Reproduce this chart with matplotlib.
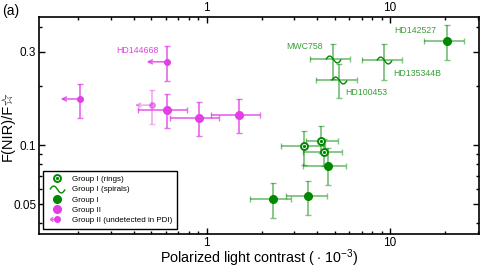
import numpy as np
import matplotlib
matplotlib.use("Agg")
import matplotlib.pyplot as plt
from matplotlib.lines import Line2D
from matplotlib.path import Path
from matplotlib.legend_handler import HandlerTuple
from matplotlib.ticker import FixedLocator, LogLocator, NullFormatter, FixedFormatter

plt.rcParams['font.family'] = ['Liberation Sans', 'DejaVu Sans']
plt.rcParams['mathtext.fontset'] = 'custom'
plt.rcParams['mathtext.rm'] = 'Liberation Sans'

GREEN = '#008800'
GREEN_TXT = '#3a9e3a'
MAG = '#e23fe6'

# Group I (filled) : x, x-range, y, y-range
g1_x = [2.29, 3.58, 4.57, 20.4]
g1_xlo = [1.73, 2.70, 3.37, 15.3]
g1_xhi = [2.87, 4.52, 5.73, 25.4]
g1_y = [0.0532, 0.0553, 0.0785, 0.341]
g1_ylo = [0.0424, 0.0441, 0.0627, 0.273]
g1_yhi = [0.0639, 0.0659, 0.097, 0.410]

# Group I (rings)
ring_x = [3.40, 4.18, 4.38]
ring_xlo = [2.54, 3.50, 3.37]
ring_xhi = [4.40, 5.22, 5.45]
ring_y = [0.0985, 0.105, 0.0925]
ring_ylo = [0.0792, 0.091, 0.078]
ring_yhi = [0.118, 0.126, 0.108]

# Group I (spirals)
spi_x = [4.91, 5.27, 9.31]
spi_xlo = [3.66, 3.96, 7.01]
spi_xhi = [6.07, 6.61, 11.67]
spi_y = [0.275, 0.216, 0.272]
spi_ylo = [0.217, 0.173, 0.216]
spi_yhi = [0.329, 0.260, 0.326]

# Group II (detected)
g2_x = [0.605, 0.904, 1.50]
g2_xlo = [0.424, 0.633, 1.05]
g2_xhi = [0.778, 1.167, 1.95]
g2_y = [0.152, 0.138, 0.143]
g2_ylo = [0.122, 0.111, 0.1155]
g2_yhi = [0.182, 0.166, 0.171]

# Group II (undetected in PDI) - upper limits
ul_x = [0.204, 0.605, 0.503]
ul_xend = [0.160, 0.471, 0.406]
ul_y = [0.172, 0.266, 0.160]
ul_ylo = [0.137, 0.213, 0.128]
ul_yhi = [0.204, 0.319, 0.192]
ul_alpha = [1.0, 1.0, 0.55]

# star labels
lab_names = ['HD144668', 'MWC758', 'HD142527', 'HD135344B', 'HD100453']
lab_x = [0.549, 4.31, 10.5, 10.4, 5.68]
lab_y = [0.304, 0.320, 0.384, 0.232, 0.186]
lab_ha = ['right', 'right', 'left', 'left', 'left']
lab_col = [MAG, GREEN_TXT, GREEN_TXT, GREEN_TXT, GREEN_TXT]

t = np.linspace(0, 2 * np.pi, 40)
spiral = Path(np.column_stack([t / np.pi - 1, 0.45 * np.sin(t)]))
arrow = Path([(-1, 0), (0, 0), (-0.62, 0.32), (-1, 0), (-0.62, -0.32)],
             [Path.MOVETO, Path.LINETO, Path.MOVETO, Path.LINETO, Path.LINETO])


def err(x, lo, hi):
    x = np.array(x)
    return [x - np.array(lo), np.array(hi) - x]


fig = plt.figure(figsize=(4.91, 2.68), dpi=100)
ax = fig.add_axes([0.0794, 0.127, 0.8962, 0.8096])
ax.set_xscale('log')
ax.set_yscale('log')

ebkw = dict(fmt='none', elinewidth=1.3, capsize=2.3, capthick=1.0)
gcol = matplotlib.colors.to_rgba(GREEN, 0.5)
mcol = matplotlib.colors.to_rgba(MAG, 0.75)

ax.errorbar(g1_x, g1_y, xerr=err(g1_x, g1_xlo, g1_xhi), yerr=err(g1_y, g1_ylo, g1_yhi), ecolor=gcol, **ebkw)
ax.errorbar(ring_x, ring_y, xerr=err(ring_x, ring_xlo, ring_xhi), yerr=err(ring_y, ring_ylo, ring_yhi), ecolor=gcol, **ebkw)
ax.errorbar(spi_x, spi_y, xerr=err(spi_x, spi_xlo, spi_xhi), yerr=err(spi_y, spi_ylo, spi_yhi), ecolor=gcol, **ebkw)
ax.errorbar(g2_x, g2_y, xerr=err(g2_x, g2_xlo, g2_xhi), yerr=err(g2_y, g2_ylo, g2_yhi), ecolor=mcol, **ebkw)

ax.plot(g1_x, g1_y, 'o', color=GREEN, ms=5.5, zorder=5)
ax.plot(ring_x, ring_y, 'o', mfc='white', mec=GREEN, mew=1.4, ms=5, zorder=5)
ax.plot(ring_x, ring_y, 'o', color=GREEN, ms=1.3, zorder=6)
ax.plot(spi_x, spi_y, ls='none', marker=spiral, mfc='none', mec=GREEN, mew=1.0, ms=11, zorder=5)
ax.plot(g2_x, g2_y, 'o', color=MAG, ms=5.5, zorder=5)

for i in range(len(ul_x)):
    a = ul_alpha[i]
    ax.errorbar([ul_x[i]], [ul_y[i]], yerr=err([ul_y[i]], [ul_ylo[i]], [ul_yhi[i]]),
                ecolor=matplotlib.colors.to_rgba(MAG, 0.75 * a), **ebkw)
    ax.annotate('', xy=(ul_xend[i], ul_y[i]), xytext=(ul_x[i], ul_y[i]),
                arrowprops=dict(arrowstyle='->', color=MAG, alpha=0.8 * a, lw=1.2,
                                shrinkA=0, shrinkB=0, mutation_scale=7))
    ax.plot([ul_x[i]], [ul_y[i]], 'o', color=MAG, ms=4, alpha=a, zorder=5)

for name, x, y, ha, c in zip(lab_names, lab_x, lab_y, lab_ha, lab_col):
    ax.text(x, y, name, ha=ha, va='center', fontsize=6.3, color=c)

ax.set_xlim(0.122, 30.5)
ax.set_ylim(0.0353, 0.45)

ax.yaxis.set_major_locator(FixedLocator([0.05, 0.1, 0.3]))
ax.yaxis.set_major_formatter(FixedFormatter(['0.05', '0.1', '0.3']))
ax.yaxis.set_minor_locator(LogLocator(base=10, subs=np.arange(2, 10)))
ax.yaxis.set_minor_formatter(NullFormatter())
ax.xaxis.set_major_locator(FixedLocator([1, 10]))
ax.xaxis.set_major_formatter(FixedFormatter(['1', '10']))
ax.xaxis.set_minor_locator(LogLocator(base=10, subs=np.arange(2, 10)))
ax.xaxis.set_minor_formatter(NullFormatter())

ax.tick_params(which='both', direction='in', top=True, right=True, labeltop=True,
               labelsize=8.5, width=1.0, pad=2)
ax.tick_params(which='major', length=4.5)
ax.tick_params(which='minor', length=2.5)
for s in ax.spines.values():
    s.set_linewidth(1.2)

ax.set_xlabel(r'Polarized light contrast ( $\cdot$ 10$^{-3}$)', fontsize=10.3, labelpad=-1)
ax.set_ylabel('F(NIR)/F\u2606', fontsize=10.5)
ax.yaxis.set_label_coords(-0.056, 0.5)
fig.text(0.004, 0.985, '(a)', fontsize=10, va='top', ha='left')

h_ring = (Line2D([], [], ls='none', marker='o', mfc='white', mec=GREEN, mew=1.4, ms=5),
          Line2D([], [], ls='none', marker='o', color=GREEN, ms=1.3))
h_spi = Line2D([], [], ls='none', marker=spiral, mfc='none', mec=GREEN, mew=1.0, ms=11)
h_g1 = Line2D([], [], ls='none', marker='o', color=GREEN, ms=5.5)
h_g2 = Line2D([], [], ls='none', marker='o', color=MAG, ms=5.5)
h_ul = (Line2D([], [], ls='none', marker=arrow, mfc='none', mec=MAG, mew=1.0, ms=10, alpha=0.8),
        Line2D([], [], ls='none', marker='o', color=MAG, ms=4))
leg = ax.legend([h_ring, h_spi, h_g1, h_g2, h_ul],
                ['Group I (rings)', 'Group I (spirals)', 'Group I', 'Group II',
                 'Group II (undetected in PDI)'],
                handler_map={tuple: HandlerTuple(ndivide=1)},
                loc='lower left', bbox_to_anchor=(0.009, 0.023), borderaxespad=0,
                fontsize=5.8, fancybox=False, edgecolor='black', framealpha=1,
                handlelength=2.3, handletextpad=0.7, labelspacing=0.32, borderpad=0.6)
leg.get_frame().set_linewidth(1.0)

fig.savefig('out.png', dpi=100)
